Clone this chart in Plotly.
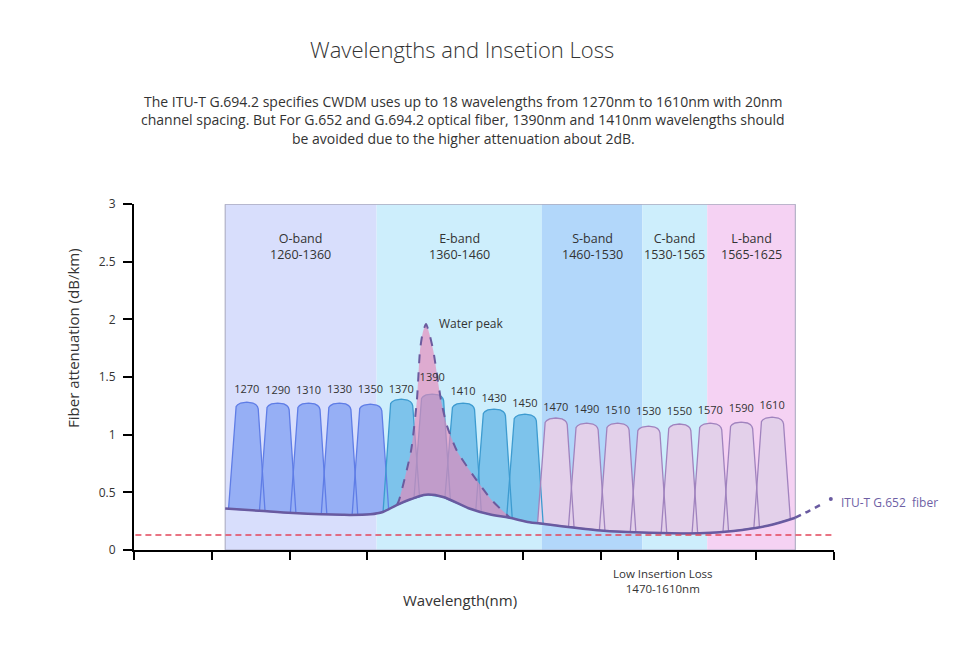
import numpy as np
import plotly.graph_objects as go

# ---- data ----
band_names = ["O-band", "E-band", "S-band", "C-band", "L-band"]
band_ranges = ["1260-1360", "1360-1460", "1460-1530", "1530-1565", "1565-1625"]
band_edges = [1256, 1354, 1461, 1526, 1568, 1625]  # drawn edges (nm)
band_colors = ["#d8defc", "#cdeefc", "#b2d7fa", "#cdeefc", "#f5d2f3"]

channels = [1270, 1290, 1310, 1330, 1350, 1370, 1390, 1410, 1430, 1450,
            1470, 1490, 1510, 1530, 1550, 1570, 1590, 1610]
channel_top = [1.283, 1.275, 1.275, 1.275, 1.266, 1.309, 1.353, 1.275, 1.223, 1.179,
               1.145, 1.101, 1.101, 1.075, 1.093, 1.101, 1.110, 1.153]
label_y = [1.387, 1.379, 1.379, 1.387, 1.387, 1.387, 1.491, 1.370, 1.309, 1.266,
           1.231, 1.214, 1.205, 1.197, 1.197, 1.205, 1.222, 1.249]
channel_group = ["O"] * 5 + ["E"] * 5 + ["SCL"] * 8

fiber_nm = [1256, 1278, 1300, 1332, 1350, 1358, 1367, 1376, 1386, 1397, 1414,
            1427, 1440, 1453, 1460, 1499, 1531, 1563, 1585, 1607, 1625]
fiber_att = [0.36, 0.34, 0.32, 0.305, 0.31, 0.33, 0.39, 0.44, 0.48, 0.46, 0.36,
             0.31, 0.28, 0.24, 0.23, 0.17, 0.15, 0.145, 0.165, 0.21, 0.28]
fiber_ext_nm = [1625, 1634, 1643]
fiber_ext_att = [0.28, 0.34, 0.405]

peak_nm = [1367.2, 1368.5, 1376.3, 1380.1, 1382.1, 1383.8, 1386, 1388.1, 1390.7,
           1395.7, 1399.5, 1406, 1416.4, 1428.7, 1440.3]
peak_att = [0.39, 0.43, 0.86, 1.30, 1.73, 1.88, 1.96, 1.88, 1.73,
            1.30, 1.08, 0.86, 0.65, 0.43, 0.28]

low_loss_line = 0.13

# ---- styles ----
fill_col = {"O": "#96aff5", "E": "#7dc3eb", "SCL": "#e3d0ea"}
line_col = {"O": "#5f7de6", "E": "#3d9bd0", "SCL": "#a083be"}
FIBER = "#695aa0"
FONT = "Open Sans"
TXT = "#333333"

# channel outline template: offsets from centre (nm) and drop below top
top_dx = [-7.4, -6.9, -5.9, -4.0, 0, 4.0, 5.9, 6.9, 7.4]
top_dy = [0.058, 0.038, 0.022, 0.008, 0, 0.008, 0.022, 0.038, 0.058]
base_dx = 11.8

fig = go.Figure()


def channel_path(c, h):
    xl, xr = c - base_dx, c + base_dx
    yl = np.interp(xl, fiber_nm, fiber_att)
    yr = np.interp(xr, fiber_nm, fiber_att)
    # bottom edge follows the fibre curve points lying under the channel
    under = [(x, y) for x, y in zip(fiber_nm, fiber_att) if xl < x < xr]
    xs = [xl] + [c + d for d in top_dx] + [xr] + [p[0] for p in reversed(under)] + [xl]
    ys = [yl] + [h - d for d in top_dy] + [yr] + [p[1] for p in reversed(under)] + [yl]
    return xs, ys


# fills first, outlines afterwards so crossings stay visible
for c, h, g in zip(channels, channel_top, channel_group):
    xs, ys = channel_path(c, h)
    fig.add_trace(go.Scatter(x=xs, y=ys, mode="lines", fill="toself",
                             fillcolor=fill_col[g], line=dict(width=0),
                             hoverinfo="skip", showlegend=False))
for c, h, g in zip(channels, channel_top, channel_group):
    xs, ys = channel_path(c, h)
    fig.add_trace(go.Scatter(x=xs, y=ys, mode="lines",
                             line=dict(color=line_col[g], width=1.3),
                             hoverinfo="skip", showlegend=False))

# water peak
under = [(x, y) for x, y in zip(fiber_nm, fiber_att) if peak_nm[0] < x < peak_nm[-1]]
poly_x = peak_nm + [p[0] for p in reversed(under)] + [peak_nm[0]]
poly_y = peak_att + [p[1] for p in reversed(under)] + [peak_att[0]]
fig.add_trace(go.Scatter(x=poly_x, y=poly_y, mode="lines", fill="toself",
                         fillcolor="rgba(230,135,185,0.65)",
                         line=dict(width=0, shape="spline", smoothing=0.6),
                         hoverinfo="skip", showlegend=False))
fig.add_trace(go.Scatter(x=peak_nm, y=peak_att, mode="lines",
                         line=dict(color="#6b5b9e", width=2, dash="dash",
                                   shape="spline", smoothing=0.6),
                         hoverinfo="skip", showlegend=False))

# fibre attenuation curve
fig.add_trace(go.Scatter(x=fiber_nm, y=fiber_att, mode="lines",
                         line=dict(color=FIBER, width=2.5, shape="spline"),
                         hoverinfo="skip", showlegend=False))
fig.add_trace(go.Scatter(x=fiber_ext_nm, y=fiber_ext_att, mode="lines",
                         line=dict(color=FIBER, width=2.5, dash="6px,5px",
                                   shape="spline"),
                         hoverinfo="skip", showlegend=False))
fig.add_trace(go.Scatter(x=[1648], y=[0.442], mode="markers",
                         marker=dict(color=FIBER, size=4),
                         hoverinfo="skip", showlegend=False))

# channel labels
fig.add_trace(go.Scatter(x=channels, y=label_y, mode="text",
                         text=[str(c) for c in channels],
                         textfont=dict(family=FONT, size=11, color=TXT),
                         hoverinfo="skip", showlegend=False))

# band backgrounds
shapes = []
for i, col in enumerate(band_colors):
    shapes.append(dict(type="rect", xref="x", yref="y", x0=band_edges[i],
                       x1=band_edges[i + 1], y0=0, y1=3, fillcolor=col,
                       line=dict(width=0), layer="below"))
shapes.append(dict(type="rect", xref="x", yref="y", x0=band_edges[0],
                   x1=band_edges[-1], y0=0, y1=3,
                   line=dict(color="#a6a6bc", width=1), layer="below"))
shapes.append(dict(type="line", xref="paper", yref="y", x0=0.002, x1=0.998,
                   y0=low_loss_line, y1=low_loss_line,
                   line=dict(color="#e2455b", width=1.4, dash="6px,4px"),
                   layer="above"))


def note(text, x, y, size, color=TXT, xref="paper", yref="paper", **kw):
    d = dict(x=x, y=y, xref=xref, yref=yref, text=text, showarrow=False,
             xanchor="center", yanchor="middle",
             font=dict(family=FONT, size=size, color=color))
    d.update(kw)
    return d


# plot area in page pixels: x 134..834, y 204..550
def px(xp):
    return (xp - 134) / 700


def py(yp):
    return (550 - yp) / 346


annotations = []
for i, (n, r) in enumerate(zip(band_names, band_ranges)):
    annotations.append(note(f"{n}<br>{r}", (band_edges[i] + band_edges[i + 1]) / 2,
                            2.63, 12.5, xref="x", yref="y"))
annotations += [
    note("Water peak", 1393, 1.968, 12, xref="x", yref="y", xanchor="left"),
    note("ITU-T G.652\u00a0 fiber", px(839), 0.408, 12, color="#6e5fa5",
         yref="y", xanchor="left"),
    note("Low Insertion Loss<br>1470-1610nm", px(663), py(581), 11.5),
    note("Wavelength(nm)", px(460), py(600), 15),
    note("Fiber attenuation (dB/km)", px(73), py(338), 15, textangle=-90),
    dict(note("Wavelengths and Insetion Loss", px(462), py(49), 22),
         font=dict(family=FONT, size=22, color=TXT, weight=300)),
]
subtitle = [
    "The ITU-T G.694.2 specifies CWDM uses up to 18 wavelengths from 1270nm to 1610nm with 20nm",
    "channel spacing. But For G.652 and G.694.2 optical fiber, 1390nm and 1410nm wavelengths should",
    "be avoided due to the higher attenuation about 2dB.",
]
for line, ypx in zip(subtitle, [101, 119.5, 138]):
    annotations.append(note(line, px(463), py(ypx), 14))

# the page body adds an 8px offset, so the figure is 8px smaller and shifted
fig.update_layout(
    width=963, height=639,
    margin=dict(l=126, r=137, t=196, b=97),
    paper_bgcolor="white", plot_bgcolor="white",
    shapes=shapes, annotations=annotations,
    xaxis=dict(range=[1197, 1650.05], tick0=1197, dtick=453 / 9,
               showticklabels=False, ticks="outside", ticklen=8, tickwidth=1.5,
               tickcolor="black", showline=True, linecolor="black", linewidth=2,
               showgrid=False, zeroline=False),
    yaxis=dict(range=[0, 3.002], tickvals=[0, 0.5, 1, 1.5, 2, 2.5, 3],
               ticktext=["0", "0.5", "1", "1.5", "2", "2.5", "3"],
               ticks="outside", ticklen=9, tickwidth=1.5, tickcolor="black",
               ticklabelstandoff=5,
               tickfont=dict(family=FONT, size=12, color=TXT),
               showline=True, linecolor="black", linewidth=2,
               showgrid=False, zeroline=False),
)

fig.write_html("out.html")
